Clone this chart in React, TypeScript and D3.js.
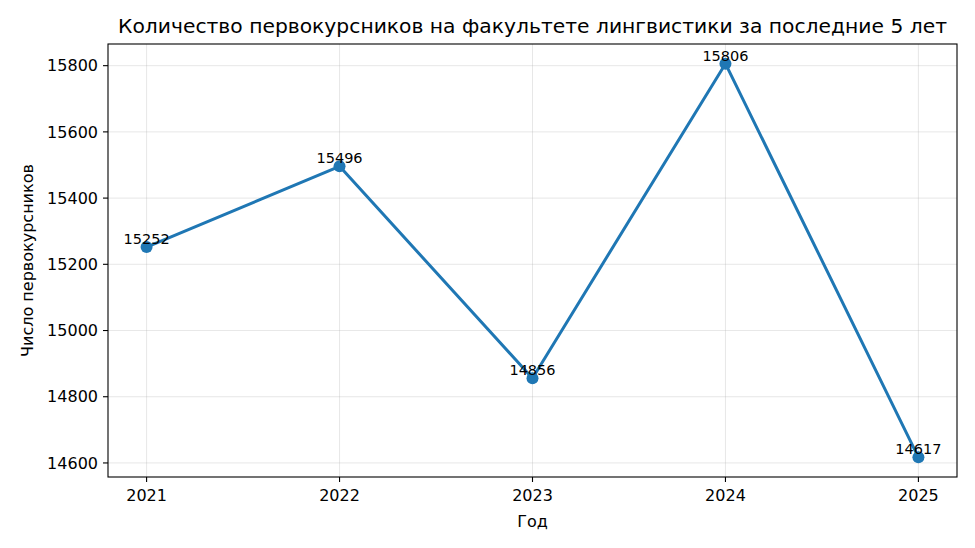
import React from "react";
import * as d3 from "d3";

const years = [2021, 2022, 2023, 2024, 2025];
const students = [15252, 15496, 14856, 15806, 14617];
const yTicks = [14600, 14800, 15000, 15200, 15400, 15600, 15800];

const W = 975, H = 548;
const M = { left: 108, right: 957, top: 44, bottom: 477 };

export default function App() {
  const xPad = (d3.max(years)! - d3.min(years)!) * 0.05;
  const x = d3.scaleLinear()
    .domain([d3.min(years)! - xPad, d3.max(years)! + xPad])
    .range([M.left, M.right]);
  const yMin = d3.min(students)!, yMax = d3.max(students)!;
  const yPad = (yMax - yMin) * 0.05;
  const y = d3.scaleLinear()
    .domain([yMin - yPad, yMax + yPad])
    .range([M.bottom, M.top]);
  const line = d3.line<number>()
    .x((_, i) => x(years[i]))
    .y((d) => y(d));
  const font = "DejaVu Sans, sans-serif";
  return (
    <svg width={W} height={H} style={{ position: "absolute", left: 0, top: 0, background: "#fff" }} fontFamily={font}>
      <rect x={0} y={0} width={W} height={H} fill="#fff" />
      {years.map((yr) => (
        <line key={"gx" + yr} x1={x(yr)} x2={x(yr)} y1={M.top} y2={M.bottom} stroke="#b0b0b0" strokeOpacity={0.3} strokeWidth={1} />
      ))}
      {yTicks.map((t) => (
        <line key={"gy" + t} x1={M.left} x2={M.right} y1={y(t)} y2={y(t)} stroke="#b0b0b0" strokeOpacity={0.3} strokeWidth={1} />
      ))}
      <path d={line(students)!} fill="none" stroke="#1f77b4" strokeWidth={3} strokeLinejoin="round" />
      {students.map((v, i) => (
        <circle key={"c" + i} cx={x(years[i])} cy={y(v)} r={6} fill="#1f77b4" />
      ))}
      {students.map((v, i) => (
        <text key={"a" + i} x={x(years[i])} y={y(v) - 3} textAnchor="middle" fontSize={14.5} fill="#000">{v}</text>
      ))}
      <rect x={M.left} y={M.top} width={M.right - M.left} height={M.bottom - M.top} fill="none" stroke="#000" strokeWidth={1.1} />
      {years.map((yr) => (
        <g key={"tx" + yr}>
          <line x1={x(yr)} x2={x(yr)} y1={M.bottom} y2={M.bottom + 5} stroke="#000" strokeWidth={1.1} />
          <text x={x(yr)} y={M.bottom + 24} textAnchor="middle" fontSize={16} fill="#000">{yr}</text>
        </g>
      ))}
      {yTicks.map((t) => (
        <g key={"ty" + t}>
          <line x1={M.left - 5} x2={M.left} y1={y(t)} y2={y(t)} stroke="#000" strokeWidth={1.1} />
          <text x={M.left - 10} y={y(t)} dy="0.36em" textAnchor="end" fontSize={16} fill="#000">{t}</text>
        </g>
      ))}
      <text x={(M.left + M.right) / 2} y={527} textAnchor="middle" fontSize={16} fill="#000">Год</text>
      <text transform={`translate(33, ${(M.top + M.bottom) / 2}) rotate(-90)`} textAnchor="middle" fontSize={16} fill="#000">Число первокурсников</text>
      <text x={(M.left + M.right) / 2} y={33} textAnchor="middle" fontSize={19} fill="#000" textLength={829} lengthAdjust="spacingAndGlyphs">Количество первокурсников на факультете лингвистики за последние 5 лет</text>
    </svg>
  );
}
